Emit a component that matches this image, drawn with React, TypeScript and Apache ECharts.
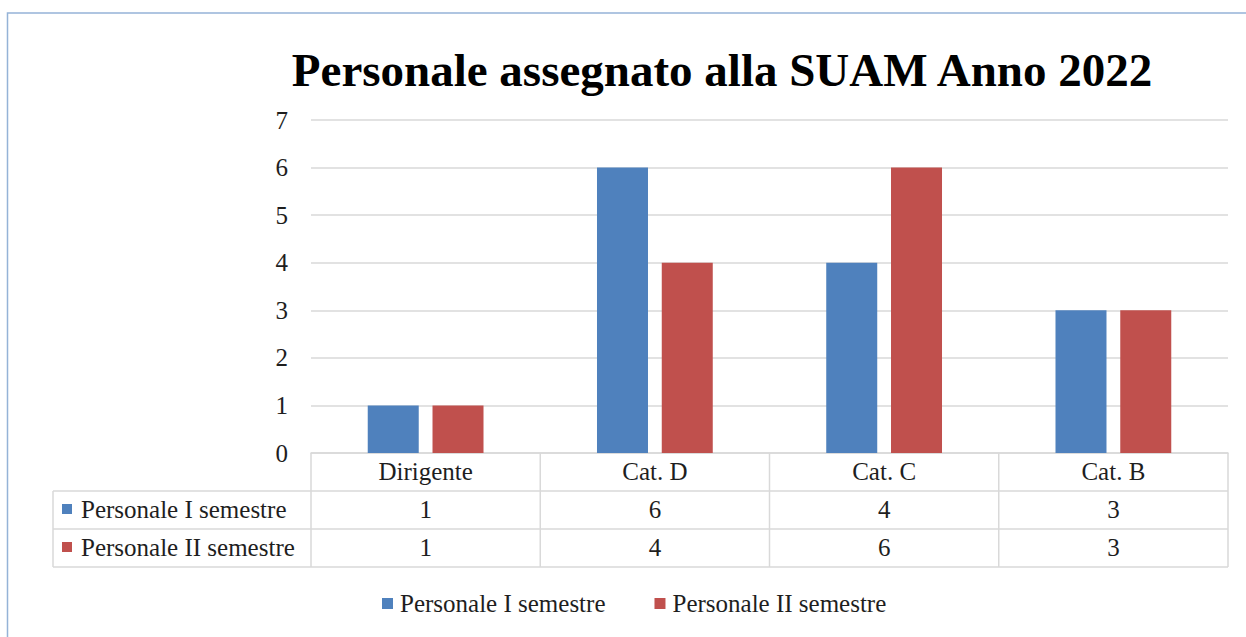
import React, { useEffect, useRef } from "react";
import * as echarts from "echarts";

const titleText = "Personale assegnato alla SUAM Anno 2022";
const categories = ["Dirigente", "Cat. D", "Cat. C", "Cat. B"];
const seriesNames = ["Personale I semestre", "Personale II semestre"];
const semestre1 = [1, 6, 4, 3];
const semestre2 = [1, 4, 6, 3];
const yMin = 0;
const yMax = 7;
const yInterval = 1;
const seriesColors = ["#4f81bd", "#c0504d"];

const FONT = "'Liberation Serif', 'Times New Roman', serif";
const FS = 25;
const TEXT = "#1e1e1e";
const LINE = "#d9d9d9";
const W = 1246;
const H = 637;
const GRID_L = 311;
const GRID_R = 1228;
const GRID_T = 120;
const GRID_B = 453;
const TABLE_L = 53;
const ROW_H = 38;

export default function App() {
  const ref = useRef<HTMLDivElement>(null);
  useEffect(() => {
    document.body.style.margin = "0";
    if (!ref.current) return;
    const chart = echarts.init(ref.current, undefined, { renderer: "svg" });
    const seriesData = [semestre1, semestre2];
    const option: any = {
      animation: false,
      backgroundColor: "#ffffff",
      grid: { left: GRID_L, right: W - GRID_R, top: GRID_T, bottom: H - GRID_B, containLabel: false },
      legend: {
        left: 382,
        top: 591,
        padding: 0,
        icon: "rect",
        itemWidth: 11,
        itemHeight: 11,
        itemGap: 49,
        data: seriesNames,
        textStyle: { fontFamily: FONT, fontSize: FS, color: TEXT, padding: [0, 0, 0, 2] },
      },
      xAxis: {
        type: "category",
        data: categories,
        axisLine: { show: true, lineStyle: { color: LINE, width: 1.5 } },
        axisTick: { show: false },
        axisLabel: { fontFamily: FONT, fontSize: FS, color: TEXT, margin: 6 },
      },
      yAxis: {
        type: "value",
        min: yMin,
        max: yMax,
        interval: yInterval,
        axisLine: { show: false },
        axisTick: { show: false },
        axisLabel: { fontFamily: FONT, fontSize: FS, color: TEXT, margin: 23 },
        splitLine: { lineStyle: { color: LINE, width: 1.5 } },
      },
      series: seriesNames.map((name, i) => ({
        name,
        type: "bar",
        data: seriesData[i],
        barWidth: 51,
        barGap: "27%",
        itemStyle: { color: seriesColors[i] },
      })),
    };
    chart.setOption(option);

    const centers = categories.map((c) => chart.convertToPixel({ xAxisIndex: 0 }, c) as number);
    const bounds: number[] = [GRID_L];
    for (let i = 0; i < centers.length - 1; i++) bounds.push((centers[i] + centers[i + 1]) / 2);
    bounds.push(GRID_R);

    const graphics: any[] = [];
    graphics.push({
      type: "text",
      x: 722,
      y: 70,
      style: {
        text: titleText,
        fontFamily: FONT,
        fontSize: 47,
        fontWeight: "bold",
        fill: "#000000",
        align: "center",
        verticalAlign: "middle",
      },
    });
    graphics.push({
      type: "rect",
      shape: { x: 7.5, y: 13, width: 1400, height: 800 },
      style: { fill: "none", stroke: "#95b3d7", lineWidth: 1.5 },
      silent: true,
    });
    const yb = GRID_B + ROW_H * 3;
    for (let r = 1; r <= 3; r++) {
      const y = GRID_B + ROW_H * r;
      graphics.push({
        type: "line",
        shape: { x1: TABLE_L, y1: y, x2: GRID_R, y2: y },
        style: { stroke: LINE, lineWidth: 1.5 },
      });
    }
    graphics.push({
      type: "line",
      shape: { x1: TABLE_L, y1: GRID_B + ROW_H, x2: TABLE_L, y2: yb },
      style: { stroke: LINE, lineWidth: 1.5 },
    });
    bounds.forEach((x) => {
      graphics.push({
        type: "line",
        shape: { x1: x, y1: GRID_B, x2: x, y2: yb },
        style: { stroke: LINE, lineWidth: 1.5 },
      });
    });
    seriesNames.forEach((name, r) => {
      const cy = GRID_B + ROW_H * (r + 1) + ROW_H / 2 - 1;
      graphics.push({
        type: "rect",
        shape: { x: 62, y: cy - 5, width: 10, height: 10 },
        style: { fill: seriesColors[r] },
      });
      graphics.push({
        type: "text",
        x: 81,
        y: cy,
        style: { text: name, fontFamily: FONT, fontSize: FS, fill: TEXT, align: "left", verticalAlign: "middle" },
      });
      seriesData[r].forEach((v, c) => {
        graphics.push({
          type: "text",
          x: centers[c],
          y: cy,
          style: { text: String(v), fontFamily: FONT, fontSize: FS, fill: TEXT, align: "center", verticalAlign: "middle" },
        });
      });
    });
    chart.setOption({ graphic: graphics });

    return () => chart.dispose();
  }, []);
  return <div ref={ref} style={{ width: W, height: H }} />;
}
